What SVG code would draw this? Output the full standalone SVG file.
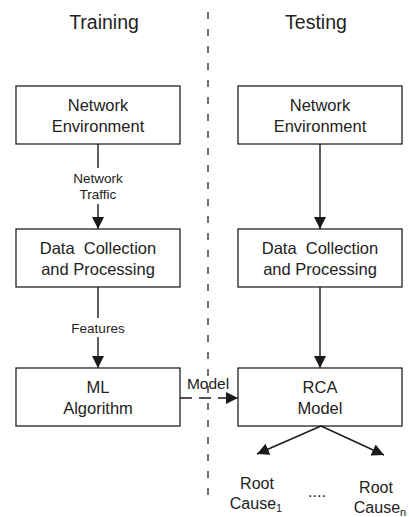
<svg xmlns="http://www.w3.org/2000/svg" width="409" height="517" viewBox="0 0 409 517">
<defs>
<marker id="ah" markerUnits="userSpaceOnUse" markerWidth="12" markerHeight="12" refX="12" refY="6" orient="auto">
<path d="M0,0 L12,6 L0,12 z" fill="#1a1a1a"/>
</marker>
<style>
text{font-family:"Liberation Sans",Arial,sans-serif;fill:#222;text-anchor:middle;white-space:pre}
.title{font-size:19.5px}
.node{font-size:16.5px}
.lbl{font-size:13.5px}
.rc{font-size:16px}
rect{fill:#fff;stroke:#222;stroke-width:1.3}
.c{stroke:#1a1a1a;stroke-width:1.4;fill:none}
</style>
</defs>
<rect x="0" y="0" width="409" height="517" style="stroke:none"/>
<g id="divider"><line x1="208" y1="12" x2="208" y2="502" stroke="#222" stroke-width="1.3" stroke-dasharray="7 10"/></g>
<g id="titles">
<text class="title" x="104" y="29">Training</text>
<text class="title" x="316" y="29">Testing</text>
</g>
<g id="train-env"><rect x="16" y="86" width="164" height="58"/><text class="node" x="98" y="111">Network</text><text class="node" x="98" y="132">Environment</text></g>
<g id="train-data"><rect x="16" y="229" width="164" height="58"/><text class="node" x="98" y="254">Data  Collection</text><text class="node" x="98" y="275">and Processing</text></g>
<g id="train-ml"><rect x="16" y="368" width="164" height="58"/><text class="node" x="98" y="393">ML</text><text class="node" x="98" y="414">Algorithm</text></g>
<g id="test-env"><rect x="238" y="86" width="164" height="58"/><text class="node" x="320" y="111">Network</text><text class="node" x="320" y="132">Environment</text></g>
<g id="test-data"><rect x="238" y="229" width="164" height="58"/><text class="node" x="320" y="254">Data  Collection</text><text class="node" x="320" y="275">and Processing</text></g>
<g id="test-rca"><rect x="238" y="368" width="164" height="58"/><text class="node" x="320" y="393">RCA</text><text class="node" x="320" y="414">Model</text></g>
<g id="root1"><text class="rc" x="257" y="489">Root</text><text class="rc" x="256" y="509">Cause<tspan font-size="11" dy="3">1</tspan></text></g>
<g id="dots"><text class="rc" x="317" y="497">....</text></g>
<g id="rootn"><text class="rc" x="376" y="493">Root</text><text class="rc" x="380" y="513">Cause<tspan font-size="11" dy="3">n</tspan></text></g>
<g id="connectors">
<line class="c" x1="98" y1="144" x2="98" y2="168"/>
<line class="c" x1="98" y1="204" x2="98" y2="229" marker-end="url(#ah)"/>
<text class="lbl" x="98" y="183">Network</text>
<text class="lbl" x="98" y="198.5">Traffic</text>
<line class="c" x1="98" y1="287" x2="98" y2="318"/>
<line class="c" x1="98" y1="337" x2="98" y2="368" marker-end="url(#ah)"/>
<text class="lbl" x="98" y="333">Features</text>
<line class="c" x1="320" y1="144" x2="320" y2="229" marker-end="url(#ah)"/>
<line class="c" x1="320" y1="287" x2="320" y2="368" marker-end="url(#ah)"/>
<line class="c" x1="180" y1="398" x2="238" y2="398" stroke-dasharray="12 7" marker-end="url(#ah)"/>
<text class="node" x="208" y="389" style="font-size:15.5px">Model</text>
<line class="c" x1="321" y1="426" x2="257" y2="454" marker-end="url(#ah)"/>
<line class="c" x1="321" y1="426" x2="384" y2="455" marker-end="url(#ah)"/>
</g>
</svg>
